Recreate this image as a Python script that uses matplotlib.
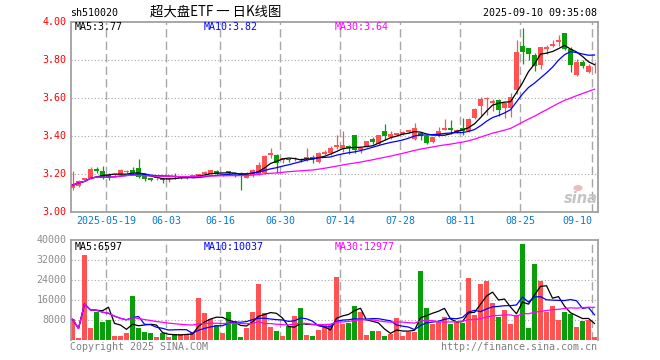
import matplotlib
matplotlib.use('Agg')
import matplotlib.pyplot as plt
from matplotlib.patches import Ellipse
import numpy as np
import pandas as pd

# ---------------- data ----------------
start_date = '2025-05-09'
end_date = '2025-09-10'
holidays = ['2025-06-02']

open_ = [3.123, 3.137, 3.167, 3.175, 3.223, 3.216, 3.193, 3.193, 3.198, 3.207,
         3.219, 3.228, 3.196, 3.175, 3.175, 3.172, 3.170, 3.188, 3.176, 3.176,
         3.181, 3.188, 3.196, 3.198, 3.214, 3.193, 3.214, 3.205, 3.202, 3.177,
         3.193, 3.196, 3.205, 3.298, 3.298, 3.272, 3.279, 3.275, 3.279, 3.272,
         3.286, 3.263, 3.302, 3.307, 3.342, 3.337, 3.346, 3.402, 3.325, 3.342,
         3.381, 3.357, 3.424, 3.394, 3.403, 3.411, 3.419, 3.385, 3.414, 3.400,
         3.367, 3.403, 3.430, 3.440, 3.420, 3.438, 3.425, 3.495, 3.556, 3.593,
         3.570, 3.590, 3.545, 3.545, 3.640, 3.870, 3.860, 3.825, 3.770, 3.855,
         3.872, 3.895, 3.940, 3.855, 3.720, 3.790, 3.735, 3.775]
high = [3.214, 3.167, 3.179, 3.237, 3.233, 3.242, 3.202, 3.200, 3.226, 3.221,
        3.237, 3.277, 3.202, 3.179, 3.184, 3.179, 3.179, 3.202, 3.188, 3.188,
        3.195, 3.200, 3.214, 3.222, 3.219, 3.200, 3.216, 3.211, 3.207, 3.209,
        3.223, 3.263, 3.298, 3.333, 3.304, 3.284, 3.284, 3.289, 3.284, 3.337,
        3.298, 3.312, 3.325, 3.346, 3.405, 3.426, 3.349, 3.402, 3.340, 3.372,
        3.393, 3.404, 3.462, 3.425, 3.416, 3.423, 3.432, 3.465, 3.414, 3.402,
        3.392, 3.447, 3.488, 3.484, 3.435, 3.491, 3.495, 3.547, 3.605, 3.605,
        3.593, 3.593, 3.579, 3.623, 3.905, 3.965, 3.862, 3.833, 3.868, 3.880,
        3.905, 3.930, 3.940, 3.865, 3.805, 3.800, 3.780, 3.790]
low = [3.114, 3.132, 3.163, 3.173, 3.202, 3.170, 3.167, 3.184, 3.193, 3.202,
       3.196, 3.175, 3.163, 3.160, 3.167, 3.153, 3.158, 3.170, 3.172, 3.172,
       3.178, 3.184, 3.189, 3.196, 3.193, 3.190, 3.191, 3.184, 3.114, 3.175,
       3.184, 3.193, 3.200, 3.284, 3.205, 3.254, 3.263, 3.268, 3.263, 3.268,
       3.254, 3.258, 3.296, 3.298, 3.330, 3.314, 3.305, 3.309, 3.310, 3.340,
       3.358, 3.352, 3.377, 3.381, 3.398, 3.405, 3.414, 3.378, 3.377, 3.357,
       3.364, 3.393, 3.428, 3.411, 3.412, 3.405, 3.421, 3.488, 3.505, 3.509,
       3.530, 3.505, 3.491, 3.500, 3.620, 3.780, 3.800, 3.742, 3.752, 3.830,
       3.865, 3.870, 3.850, 3.735, 3.715, 3.755, 3.728, 3.728]
close = [3.140, 3.163, 3.175, 3.223, 3.212, 3.179, 3.179, 3.198, 3.219, 3.214,
         3.205, 3.184, 3.170, 3.167, 3.181, 3.167, 3.175, 3.181, 3.185, 3.185,
         3.192, 3.197, 3.207, 3.219, 3.198, 3.198, 3.202, 3.200, 3.188, 3.202,
         3.219, 3.246, 3.295, 3.307, 3.258, 3.281, 3.272, 3.281, 3.272, 3.286,
         3.275, 3.311, 3.312, 3.333, 3.352, 3.349, 3.333, 3.325, 3.337, 3.371,
         3.367, 3.403, 3.398, 3.408, 3.412, 3.419, 3.428, 3.440, 3.396, 3.362,
         3.391, 3.424, 3.439, 3.432, 3.428, 3.427, 3.486, 3.540, 3.593, 3.600,
         3.585, 3.535, 3.570, 3.604, 3.840, 3.842, 3.830, 3.768, 3.866, 3.866,
         3.885, 3.905, 3.855, 3.770, 3.790, 3.765, 3.765, 3.780]
volume = [8300, 900, 34000, 4900, 11400, 7300, 8000, 1600, 1600, 2800,
          17600, 4900, 3200, 2900, 1300, 2700, 1400, 2400, 2300, 2400,
          3400, 16900, 10900, 8300, 6200, 2900, 11200, 7500, 1400, 5000,
          11200, 22400, 10900, 5300, 3600, 1700, 5500, 9600, 12800, 1900,
          1600, 4000, 6000, 6500, 25300, 6400, 6900, 13600, 11300, 2000,
          3600, 3600, 1600, 2400, 8800, 1600, 3300, 3300, 27600, 12900,
          6400, 7300, 9100, 6400, 7100, 6900, 24900, 10000, 22400, 23600,
          14900, 9100, 12000, 6400, 10000, 38400, 4900, 30400, 23600, 11200,
          13600, 8000, 11300, 10400, 5400, 7800, 8200, 1200]

tick_dates = ['2025-05-19', '2025-06-03', '2025-06-16', '2025-06-30', '2025-07-14',
              '2025-07-28', '2025-08-11', '2025-08-25', '2025-09-10']
tick_labels = ['2025-05-19', '06-03', '06-16', '06-30', '07-14',
               '07-28', '08-11', '08-25', '09-10']
price_ticks = [3.00, 3.20, 3.40, 3.60, 3.80, 4.00]
vol_ticks = [8000, 16000, 24000, 32000, 40000]

ma_price_text = ['MA5:3.77', 'MA10:3.82', 'MA30:3.64']
ma_vol_text = ['MA5:6597', 'MA10:10037', 'MA30:12977']

symbol = 'sh510020'
title = '超大盘ETF 一 日K线图'
stamp = '2025-09-10 09:35:08'

# ---------------- styling ----------------
RED = '#ff5353'
GREEN = '#0a9f0a'
GRID = '#a8a8a8'
FRAME = '#a0a0a0'
MONO = 'DejaVu Sans Mono'
FS = 7.2

W, H = 660, 360
fig = plt.figure(figsize=(W / 100, H / 100), dpi=100)
fig.patch.set_facecolor('white')


def fx(x):
    return x / W


def fy(y):
    return 1 - y / H


L, R = 70.5, 597.5
ax = fig.add_axes([fx(L), fy(211.7), (R - L) / W, 190 / H])
axv = fig.add_axes([fx(L), fy(340), (R - L) / W, 100 / H])

dates = pd.bdate_range(start_date, end_date)
dates = [d.strftime('%Y-%m-%d') for d in dates if d.strftime('%Y-%m-%d') not in holidays]
n = len(close)
xs = np.arange(n)
o = np.array(open_)
c = np.array(close)
hi = np.array(high)
lo = np.array(low)
up = c >= o
cols = np.where(up, RED, GREEN)

tick_pos = [dates.index(d) for d in tick_dates]

xlim = ((L - 72.5) / 6, (R - 72.5) / 6)

# ---- price panel ----
ax.set_xlim(*xlim)
ax.set_ylim(price_ticks[0], price_ticks[-1])
for p in price_ticks[1:-1]:
    ax.axhline(p, color=GRID, lw=0.8, ls=(0, (1, 2)), zorder=0)
for tp in tick_pos:
    ax.axvline(tp - 0.37, color=GRID, lw=1.0, ls=(0, (6, 3)), zorder=0)
ax.vlines(xs, lo, hi, colors=cols, lw=0.9, zorder=2)
ax.bar(xs, np.maximum(np.abs(c - o), 0.005), bottom=np.minimum(o, c), width=0.83,
       color=cols, linewidth=0, zorder=3)
cs = pd.Series(c)
ax.plot(xs, cs.rolling(5, min_periods=1).mean(), color='black', lw=0.9, zorder=4)
ax.plot(xs, cs.rolling(10, min_periods=1).mean(), color='#0000ff', lw=0.9, zorder=4)
ax.plot(xs, cs.rolling(30, min_periods=1).mean(), color='#ff00ff', lw=0.9, zorder=4)
ax.set_xticks([])
ax.set_yticks([])
for s in ax.spines.values():
    s.set_color(FRAME)
    s.set_linewidth(1.3)

# ---- volume panel ----
vol = np.array(volume)
axv.set_xlim(*xlim)
axv.set_ylim(0, vol_ticks[-1])
for v in vol_ticks[:-1]:
    axv.axhline(v, color=GRID, lw=0.8, ls=(0, (1, 2)), zorder=0)
for tp in tick_pos:
    axv.axvline(tp - 0.37, color=GRID, lw=1.0, ls=(0, (6, 3)), zorder=0)
axv.bar(xs, vol, width=0.83, color=cols, linewidth=0, zorder=2)
vs = pd.Series(vol.astype(float))
axv.plot(xs, vs.rolling(5, min_periods=1).mean(), color='black', lw=0.9, zorder=4)
axv.plot(xs, vs.rolling(10, min_periods=1).mean(), color='#0000ff', lw=0.9, zorder=4)
axv.plot(xs, vs.rolling(30, min_periods=1).mean(), color='#ff00ff', lw=0.9, zorder=4)
axv.set_xticks([])
axv.set_yticks([])
for k, s in axv.spines.items():
    s.set_color(FRAME)
    s.set_linewidth(1.3)
axv.spines['bottom'].set_visible(False)

# ---- texts ----
def ptext(x, y, s, **kw):
    kw.setdefault('family', MONO)
    kw.setdefault('fontsize', FS)
    kw.setdefault('va', 'center')
    fig.text(fx(x), fy(y), s, **kw)


ptext(70, 12.5, symbol, ha='left', color='black')
ptext(216, 12, title, ha='center', color='black', family=['Noto Sans CJK SC', 'DejaVu Sans'],
      fontsize=9.6)
ptext(597, 12.5, stamp, ha='right', color='black')

for p in price_ticks:
    yp = 211.7 - (p - price_ticks[0]) * 190
    ptext(66.5, yp, f'{p:.2f}', ha='right', color='#ff0000')
for v in vol_ticks:
    yv = 340 - v / vol_ticks[-1] * 100
    ptext(66.5, yv, f'{v}', ha='right', color='#8c8c8c')

ma_cols = ['black', '#0000ff', '#ff00ff']
ma_x = [75, 204, 335]
for t, col, xx in zip(ma_price_text, ma_cols, ma_x):
    ptext(xx, 26.5, t, ha='left', color=col)
for t, col, xx in zip(ma_vol_text, ma_cols, ma_x):
    ptext(xx, 246.5, t, ha='left', color=col)

for tp, lab in zip(tick_pos, tick_labels):
    xpix = 72.5 + 6 * tp - 2
    if xpix + len(lab) * 3 > 592:
        ptext(592, 221.5, lab, ha='right', color='#0a78d2')
    else:
        ptext(xpix, 221.5, lab, ha='center', color='#0a78d2')

ptext(70, 346.5, 'Copyright 2025 SINA.COM', ha='left', color='#808080')
ptext(597, 346.5, 'http://finance.sina.com.cn', ha='right', color='#808080')

# sina watermark
fig.text(fx(581), fy(198), 'sina', ha='center', va='center', fontsize=10.5,
         family='DejaVu Sans', fontweight='bold', style='italic', color='#c4c4c4')
fig.add_artist(Ellipse((fx(578), fy(188)), 9 / W, 6 / H, transform=fig.transFigure,
                       facecolor='#f5b8b8', edgecolor='none'))

fig.savefig('out.png', dpi=100, facecolor='white')
